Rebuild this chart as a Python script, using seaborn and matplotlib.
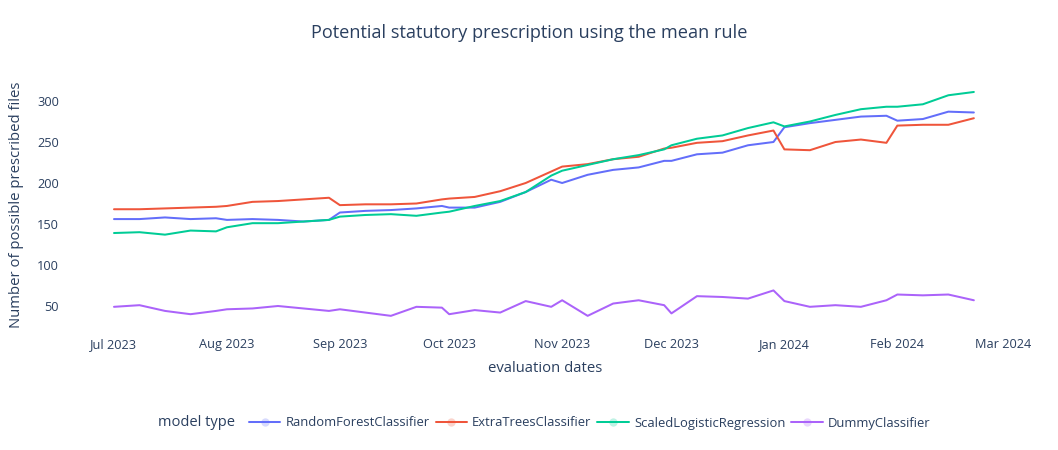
import pandas as pd
import seaborn as sns
import matplotlib.pyplot as plt
import matplotlib.dates as mdates
from matplotlib.lines import Line2D

# --- data ---
dates = [
    "2023-07-01", "2023-07-08", "2023-07-15", "2023-07-22", "2023-07-29",
    "2023-08-01", "2023-08-08", "2023-08-15", "2023-08-22", "2023-08-29",
    "2023-09-01", "2023-09-08", "2023-09-15", "2023-09-22", "2023-09-29",
    "2023-10-01", "2023-10-08", "2023-10-15", "2023-10-22", "2023-10-29",
    "2023-11-01", "2023-11-08", "2023-11-15", "2023-11-22", "2023-11-29",
    "2023-12-01", "2023-12-08", "2023-12-15", "2023-12-22", "2023-12-29",
    "2024-01-01", "2024-01-08", "2024-01-15", "2024-01-22", "2024-01-29",
    "2024-02-01", "2024-02-08", "2024-02-15", "2024-02-22",
]
random_forest = [156, 156, 158, 156, 157, 155, 156, 155, 153, 155,
                 164, 166, 167, 169, 172, 170, 170, 177, 189, 204,
                 200, 210, 216, 219, 227, 227, 235, 237, 246, 250,
                 268, 273, 277, 281, 282, 276, 278, 287, 286]
extra_trees = [168, 168, 169, 170, 171, 172, 177, 178, 180, 182,
               173, 174, 174, 175, 180, 181, 183, 190, 200, 214,
               220, 223, 229, 232, 242, 243, 249, 251, 258, 264,
               241, 240, 250, 253, 249, 270, 271, 271, 279]
scaled_logreg = [139, 140, 137, 142, 141, 146, 151, 151, 153, 155,
                 159, 161, 162, 160, 164, 165, 172, 178, 189, 209,
                 215, 222, 229, 234, 241, 246, 254, 258, 267, 274,
                 269, 275, 283, 290, 293, 293, 296, 307, 311]
dummy = [49, 51, 44, 40, 44, 46, 47, 50, 47, 44,
         46, 42, 38, 49, 48, 40, 45, 42, 56, 49,
         57, 38, 53, 57, 51, 41, 62, 61, 59, 69,
         56, 49, 51, 49, 57, 64, 63, 64, 57]

models = ["RandomForestClassifier", "ExtraTreesClassifier",
          "ScaledLogisticRegression", "DummyClassifier"]
colors = ["#636EFA", "#EF553B", "#00CC96", "#AB63FA"]
series = [random_forest, extra_trees, scaled_logreg, dummy]

df = pd.concat([
    pd.DataFrame({"date": pd.to_datetime(dates), "value": vals, "model type": name})
    for name, vals in zip(models, series)
])

TXT = "#2a3f5f"
W, H = 1058, 450

sns.set_style("white")
plt.rcParams["font.family"] = ["Open Sans", "DejaVu Sans"]

fig = plt.figure(figsize=(W / 100, H / 100), dpi=100)
# axes box in pixels: left 80, right 1040, top 85, bottom 330
ax = fig.add_axes([80 / W, (H - 330) / H, 960 / W, 245 / H])

sns.lineplot(data=df, x="date", y="value", hue="model type",
             palette=dict(zip(models, colors)), linewidth=1.45,
             estimator=None, legend=False, ax=ax)

# x range so Jul 1 sits at ~114px and Mar 1 at ~1003px
ppd = (1003 - 114) / 244
x0 = pd.Timestamp("2023-07-01") - pd.Timedelta(days=(114 - 80) / ppd)
x1 = pd.Timestamp("2024-03-01") + pd.Timedelta(days=(1040 - 1003) / ppd)
ax.set_xlim(x0, x1)
ax.set_ylim((347 - 330) / 0.82, (347 - 85) / 0.82)

ax.xaxis.set_major_locator(mdates.MonthLocator())
ax.xaxis.set_major_formatter(mdates.DateFormatter("%b %Y"))
ax.set_yticks([50, 100, 150, 200, 250, 300])
ax.tick_params(axis="both", length=0, labelsize=9.2, labelcolor=TXT)
ax.tick_params(axis="x", pad=6)
ax.tick_params(axis="y", pad=15)
ax.set_xlabel("")
ax.set_ylabel("")
ax.grid(False)
sns.despine(ax=ax, left=True, bottom=True)

fig.text(529 / W, 1 - 33 / H, "Potential statutory prescription using the mean rule",
         ha="center", va="center", fontsize=13.1, color=TXT)
fig.text(545 / W, 1 - 369 / H, "evaluation dates",
         ha="center", va="center", fontsize=10.7, color=TXT)
fig.text(17 / W, 1 - 205 / H, "Number of possible prescribed files",
         ha="center", va="center", rotation=90, fontsize=10.7, color=TXT)

# horizontal legend with its title on the left
fig.text(158 / W, 1 - 423 / H, "model type", ha="left", va="center",
         fontsize=10.5, color=TXT)
handles = [Line2D([0], [0], color=c, lw=1.45, marker="o", markersize=6,
                  markerfacecolor=c + "40", markeredgecolor=c + "00")
           for c in colors]
fig.legend(handles, models, loc="center left",
           bbox_to_anchor=(249 / W, 1 - 423 / H), ncol=4, frameon=False,
           fontsize=9.4, labelcolor=TXT, handlelength=2.4, handletextpad=0.4,
           columnspacing=0.45, borderpad=0, borderaxespad=0)

fig.savefig("out.png", dpi=100)
